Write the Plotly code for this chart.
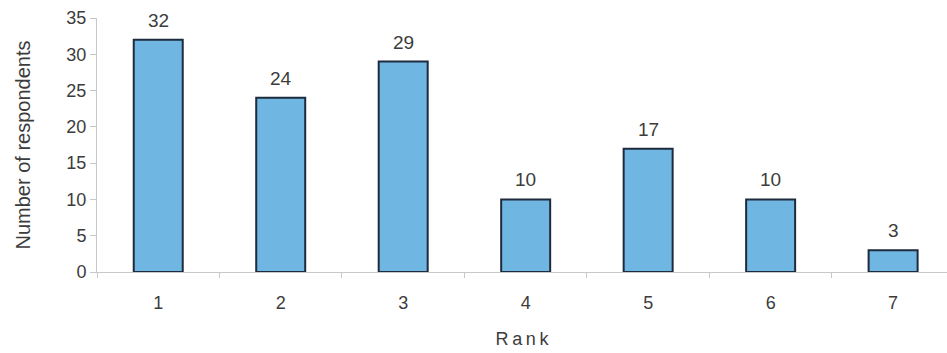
import plotly.graph_objects as go

ranks = ["1", "2", "3", "4", "5", "6", "7"]
respondents = [32, 24, 29, 10, 17, 10, 3]
y_ticks = [0, 5, 10, 15, 20, 25, 30, 35]

font_family = "Liberation Sans, Arial, sans-serif"
text_color = "#3c3c3c"
axis_color = "#c8c8c8"

fig = go.Figure(
    go.Bar(
        x=ranks,
        y=respondents,
        width=0.4,
        marker=dict(color="#6fb6e2", line=dict(color="#1e2b3c", width=2)),
    )
)

# value labels sitting a little above each bar (x given as category index)
for i, v in enumerate(respondents):
    fig.add_annotation(
        x=i, y=v, text=str(v), showarrow=False,
        yanchor="bottom", yshift=7,
        font=dict(family=font_family, size=19, color=text_color),
    )

fig.update_layout(
    width=947,
    height=353,
    margin=dict(l=97, r=0, t=18, b=81),
    paper_bgcolor="white",
    plot_bgcolor="white",
    showlegend=False,
    font=dict(family=font_family, color=text_color),
    xaxis=dict(
        type="category",
        range=[-0.5, 6.44],
        tickson="boundaries",
        ticks="outside",
        ticklen=5,
        tickcolor=axis_color,
        showline=True,
        linecolor=axis_color,
        linewidth=1,
        showgrid=False,
        tickfont=dict(size=18, color=text_color),
        ticklabelstandoff=14,
        title=dict(
            text="R\u2009a\u2009n\u2009k",
            font=dict(size=18, color=text_color),
            standoff=20,
        ),
    ),
    yaxis=dict(
        range=[0, 35],
        tickvals=y_ticks,
        ticks="outside",
        ticklen=6,
        tickcolor=axis_color,
        showline=True,
        linecolor=axis_color,
        linewidth=1,
        showgrid=False,
        zeroline=False,
        tickfont=dict(size=18, color=text_color),
        title=dict(
            text="Number of respondents",
            font=dict(size=20, color=text_color),
            standoff=30,
        ),
    ),
)

fig.write_html("out.html")
